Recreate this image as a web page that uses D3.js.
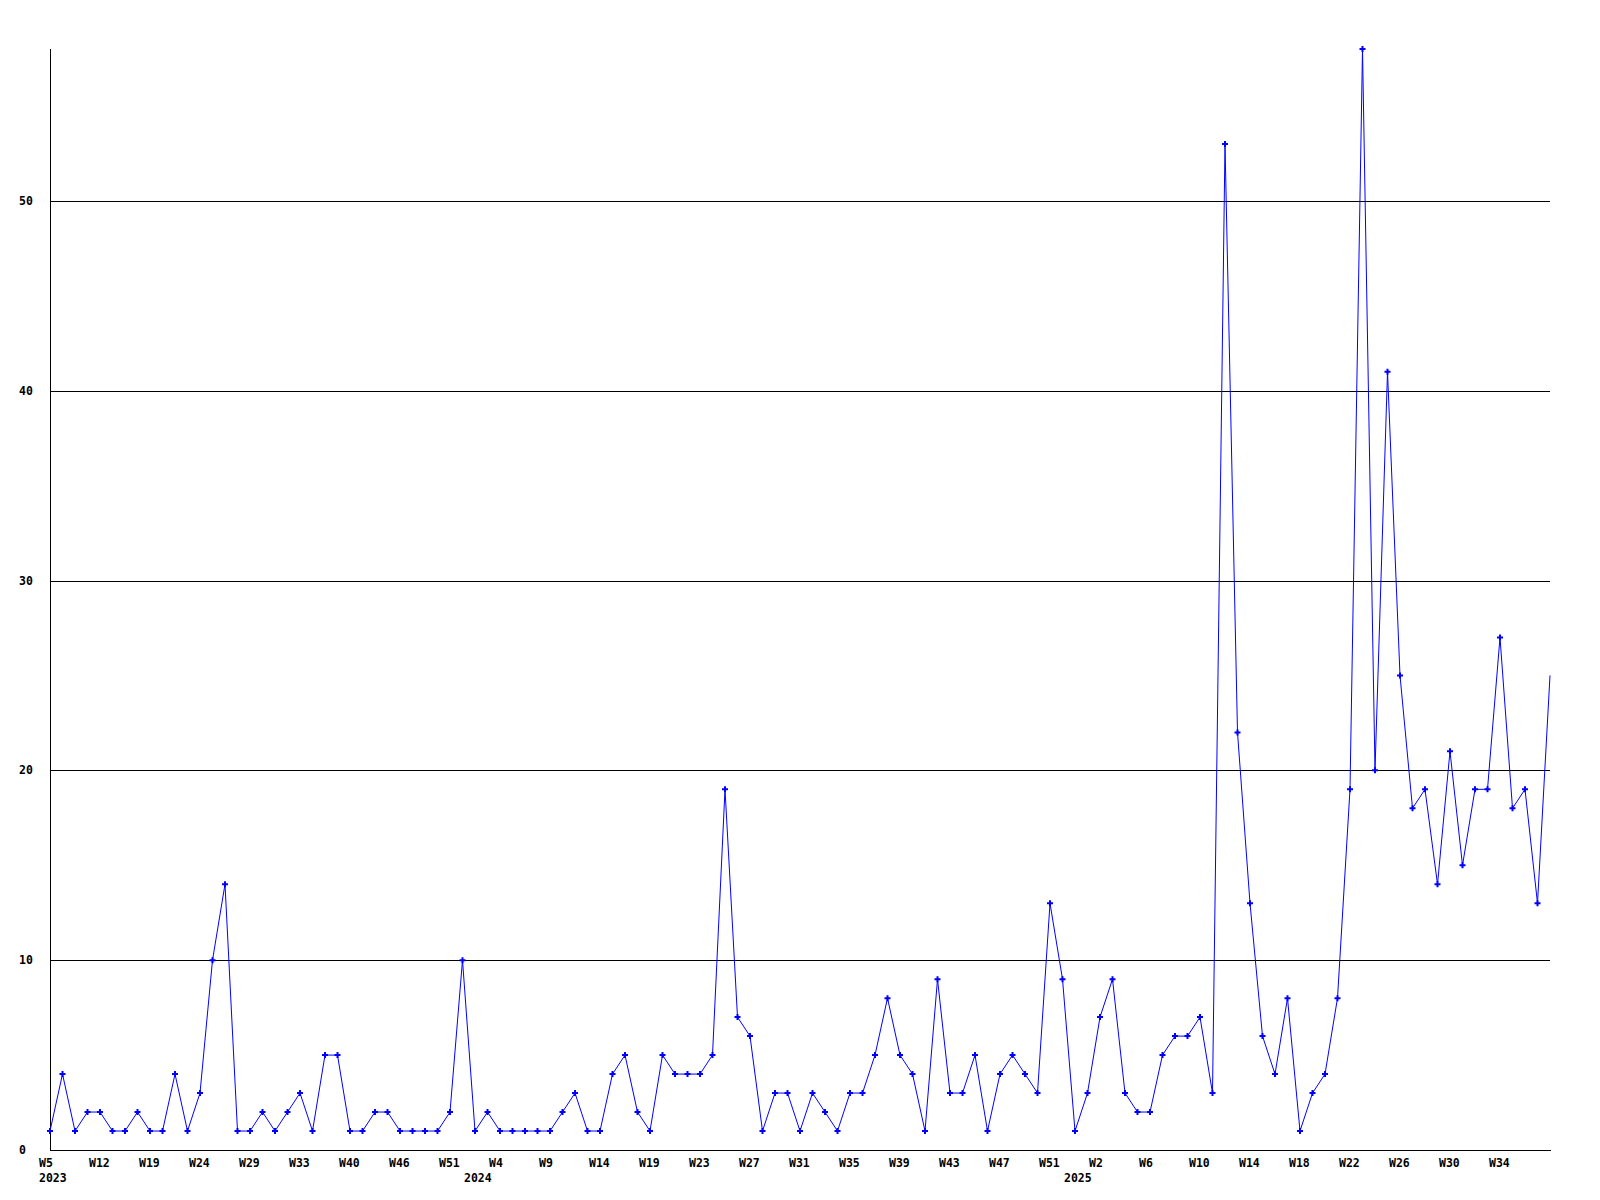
<!DOCTYPE html>
<html>
<head>
<meta charset="utf-8">
<script src="https://cdn.jsdelivr.net/npm/d3@7"></script>
<style>
  html, body { margin: 0; padding: 0; background: #fff; }
  svg { display: block; }
  text { font-family: "DejaVu Sans Mono", "Liberation Mono", monospace; font-weight: bold; font-size: 11.5px; fill: #000; }
</style>
</head>
<body>
<svg id="chart" width="1600" height="1200"></svg>
<script>
// Weekly counts (one point per reported week)
const values = [
  1,4,1,2,2,1,1,2,1,1,4,1,3,10,14,1,1,2,1,2,
  3,1,5,5,1,1,2,2,1,1,1,1,2,10,1,2,1,1,1,1,
  1,2,3,1,1,4,5,2,1,5,4,4,4,5,19,7,6,1,3,3,
  1,3,2,1,3,3,5,8,5,4,1,9,3,3,5,1,4,5,4,3,
  13,9,1,3,7,9,3,2,2,5,6,6,7,3,53,22,13,6,4,8,
  1,3,4,8,19,58,20,41,25,18,19,14,21,15,19,19,27,18,19,13,
  25
];
// Week labels shown under every 4th point
const weekLabels = ["W5","W12","W19","W24","W29","W33","W40","W46","W51","W4",
  "W9","W14","W19","W23","W27","W31","W35","W39","W43","W47",
  "W51","W2","W6","W10","W14","W18","W22","W26","W30","W34"];
const weekLabelIndex = weekLabels.map((_, i) => i * 4);
// Year labels and the point index where each year starts
const yearLabels = ["2023","2024","2025"];
const yearIndex = [0, 34, 82];
const yTicks = [0,10,20,30,40,50];

const svg = d3.select("#chart");
const mLeft = 50, mRight = 1550, mBottom = 1150, mTop = 49;

const x = d3.scalePoint().domain(d3.range(values.length)).range([mLeft, mRight]);
const y = d3.scaleLinear().domain([0, d3.max(values)]).range([mBottom, mTop]);

// gridlines
svg.append("g").selectAll("line").data(yTicks.filter(d => d > 0)).join("line")
  .attr("x1", mLeft).attr("x2", mRight)
  .attr("y1", d => Math.round(y(d)) + 0.5).attr("y2", d => Math.round(y(d)) + 0.5)
  .attr("stroke", "#000").attr("stroke-width", 1).attr("shape-rendering", "crispEdges");

// axes lines
svg.append("line").attr("x1", mLeft + 0.5).attr("x2", mLeft + 0.5).attr("y1", mTop).attr("y2", mBottom + 1)
  .attr("stroke", "#000").attr("shape-rendering", "crispEdges");
svg.append("line").attr("x1", mLeft).attr("x2", mRight + 1).attr("y1", mBottom + 0.5).attr("y2", mBottom + 0.5)
  .attr("stroke", "#000").attr("shape-rendering", "crispEdges");

// y labels
svg.append("g").selectAll("text").data(yTicks).join("text")
  .attr("x", 19).attr("y", d => y(d)).attr("dy", "0.35em")
  .text(d => d);

// x week labels
svg.append("g").selectAll("text").data(weekLabels).join("text")
  .attr("x", (d, i) => x(weekLabelIndex[i]) - 11).attr("y", 1167)
  .text(d => d);

// year labels
svg.append("g").selectAll("text").data(yearLabels).join("text")
  .attr("x", (d, i) => x(yearIndex[i]) - 11).attr("y", 1182)
  .text(d => d);

// line
const line = d3.line().x((d, i) => x(i)).y(d => y(d));
svg.append("path").datum(values).attr("d", line)
  .attr("fill", "none").attr("stroke", "#0000ff").attr("stroke-width", 1);

// markers (the last, still-open week has none)
svg.append("g").selectAll("path").data(values.slice(0, -1)).join("path")
  .attr("transform", (d, i) => `translate(${x(i)},${y(d)})`)
  .attr("d", d3.symbol().type(d3.symbolCross).size(20))
  .attr("fill", "#0000ff");
</script>
</body>
</html>
